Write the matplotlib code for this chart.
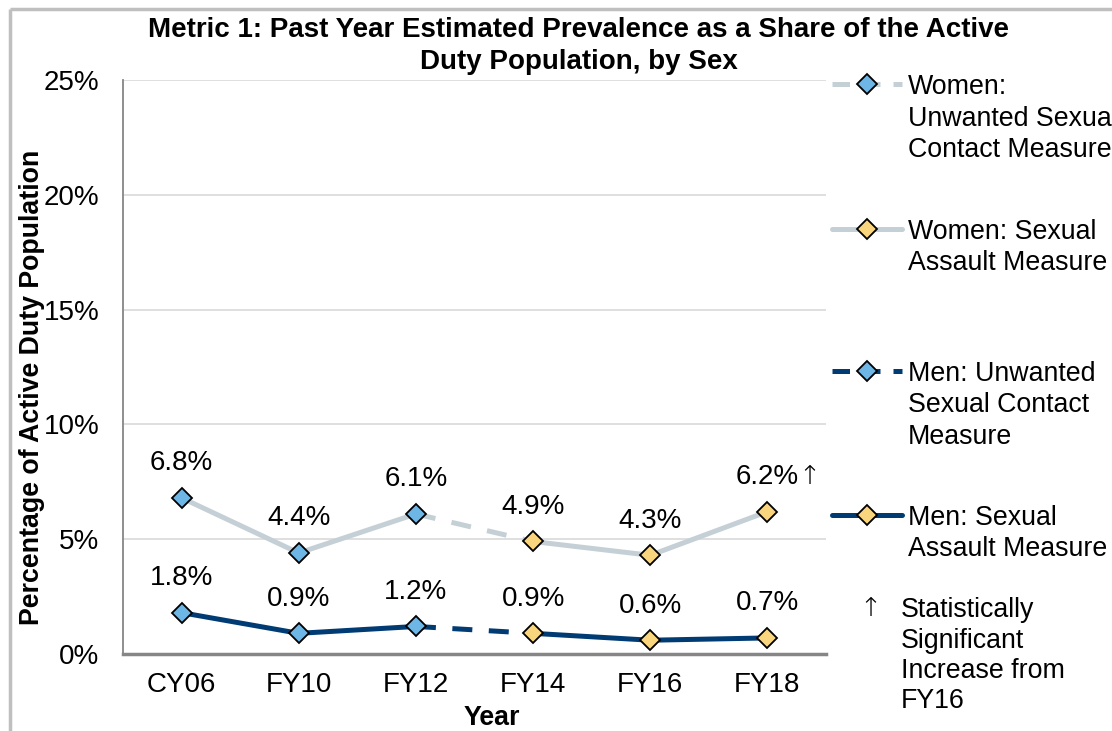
import matplotlib
matplotlib.use("Agg")
import matplotlib.pyplot as plt
from matplotlib.ticker import FuncFormatter

plt.rcParams['font.family'] = ['Liberation Sans', 'DejaVu Sans']

years = ['CY06', 'FY10', 'FY12', 'FY14', 'FY16', 'FY18']
women_usc = [6.8, 4.4, 6.1]   # CY06-FY12, unwanted sexual contact
women_sa = [4.9, 4.3, 6.2]    # FY14-FY18, sexual assault
men_usc = [1.8, 0.9, 1.2]
men_sa = [0.9, 0.6, 0.7]
sig_up = ['FY18']             # women, increase from FY16

light = '#C5D0D6'
navy = '#003B73'
blue_mk = '#6DB6E6'
gold_mk = '#F9D57D'

FS = 20

fig = plt.figure(figsize=(11.12, 7.31), dpi=100)

# overlay in pixel coords for frame and legend
ov = fig.add_axes([0, 0, 1, 1])
ov.set_xlim(0, 1112)
ov.set_ylim(731, 0)
ov.axis('off')
ov.patch.set_visible(False)

ax = fig.add_axes([123 / 1112, 1 - 654 / 731, 703 / 1112, 574 / 731])

x_usc = list(range(len(women_usc)))
x_sa = list(range(len(women_usc), len(years)))

lw = 3.6
dash = (4, 3.3)
mk = dict(marker='D', markersize=10.5, markeredgecolor='black', markeredgewidth=1.3)

for usc, sa, col in [(women_usc, women_sa, light), (men_usc, men_sa, navy)]:
    ax.plot([x_usc[-1], x_sa[0]], [usc[-1], sa[0]], color=col, lw=lw, dashes=dash, zorder=2)
    ax.plot(x_usc, usc, color=col, lw=lw, zorder=2)
    ax.plot(x_sa, sa, color=col, lw=lw, zorder=2)
    ax.plot(x_usc, usc, ls='none', markerfacecolor=blue_mk, zorder=3, **mk)
    ax.plot(x_sa, sa, ls='none', markerfacecolor=gold_mk, zorder=3, **mk)
    for xi, v in zip(x_usc + x_sa, usc + sa):
        ax.annotate(f"{v:.1f}%", (xi, v), xytext=(0, 25), textcoords='offset points',
                    ha='center', va='center', fontsize=FS)

for y in sig_up:
    xi = years.index(y)
    v = women_sa[xi - len(women_usc)]
    ax.annotate("\u2191", (xi, v), xytext=(30, 25.5), textcoords='offset points',
                ha='center', va='center', fontsize=19, family='DejaVu Sans',
                fontweight='light')

ax.set_xlim(-0.5, len(years) - 0.5)
ax.set_ylim(0, 25)
ax.set_yticks([0, 5, 10, 15, 20, 25])
ax.yaxis.set_major_formatter(FuncFormatter(lambda v, p: f"{v:g}%"))
ax.set_xticks(range(len(years)))
ax.set_xticklabels(years)
ax.tick_params(axis='both', length=0, labelsize=FS)
ax.tick_params(axis='y', pad=17)
ax.tick_params(axis='x', pad=13)
ax.grid(axis='y', color='#D9D9D9', lw=1.2)
ax.set_axisbelow(True)
for s in ['top', 'right']:
    ax.spines[s].set_visible(False)
ax.spines['left'].set_color('#868686')
ax.spines['left'].set_linewidth(1.3)
ax.spines['bottom'].set_color('#868686')
ax.spines['bottom'].set_linewidth(2.5)

fig.text(32 / 1112, 1 - 387 / 731, "Percentage of Active Duty Population", rotation=90,
         ha='center', va='center', fontsize=19.3, fontweight='bold')
fig.text(492 / 1112, 1 - 718 / 731, "Year", ha='center', va='center',
         fontsize=19.3, fontweight='bold')

fig.text(579 / 1112, 1 - 46 / 731,
         "Metric 1: Past Year Estimated Prevalence as a Share of the Active\nDuty Population, by Sex",
         ha='center', va='center', fontsize=20, fontweight='bold', linespacing=1.3)

# outer frame (left and top edges)
ov.plot([10, 10], [9, 731], color='#BFBFBF', lw=2.5, solid_capstyle='butt')
ov.plot([10, 1112], [9, 9], color='#BFBFBF', lw=2.5, solid_capstyle='butt')


def text_lines(x, y0, lines, step=31.5):
    # y0 = centre of first line, pixel coords
    for i, line in enumerate(lines):
        ov.text(x, y0 + i * step + 10, line, ha='left', va='baseline', fontsize=19.3)


# legend
entries = [
    (["Women:", "Unwanted Sexual", "Contact Measure"], light, blue_mk, True, 84),
    (["Women: Sexual", "Assault Measure"], light, gold_mk, False, 229),
    (["Men: Unwanted", "Sexual Contact", "Measure"], navy, blue_mk, True, 371),
    (["Men: Sexual", "Assault Measure"], navy, gold_mk, False, 515),
]
for lines, col, mfc, dashed, yy in entries:
    if dashed:
        ov.plot([832, 902], [yy, yy], color=col, lw=lw, dashes=(3.5, 2.6))
    else:
        ov.plot([832, 902], [yy, yy], color=col, lw=lw, solid_capstyle='round')
    ov.plot([867], [yy], ls='none', markerfacecolor=mfc, **mk)
    text_lines(908, yy, lines)

ov.text(870, 609, "\u2191", ha='center', va='center', fontsize=19,
        family='DejaVu Sans', fontweight='light')
text_lines(901, 607, ["Statistically", "Significant", "Increase from", "FY16"], step=30.5)

fig.savefig("out.png", dpi=100)
